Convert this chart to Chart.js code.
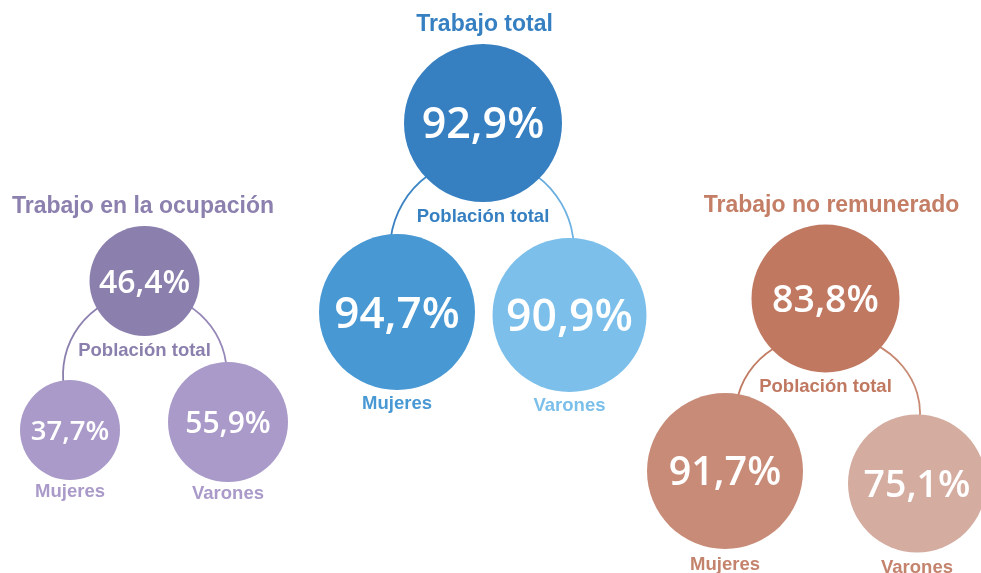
<!DOCTYPE html>
<html lang="es">
<head>
<meta charset="utf-8">
<title>Trabajo total, en la ocupación y no remunerado</title>
<script src="https://cdn.jsdelivr.net/npm/chart.js@4.4.1/dist/chart.umd.min.js"></script>
<style>
  html, body { margin: 0; padding: 0; background: #ffffff; }
  #wrap { position: relative; width: 981px; height: 573px; }
</style>
</head>
<body>
<div id="wrap"><canvas id="chart"></canvas></div>
<script>
// ---- Data ----
const groups = ['Trabajo en la ocupación', 'Trabajo total', 'Trabajo no remunerado'];
const segments = ['Población total', 'Mujeres', 'Varones'];
const ocupacion = [46.4, 37.7, 55.9];
const trabajoTotal = [92.9, 94.7, 90.9];
const noRemunerado = [83.8, 91.7, 75.1];
const seriesValues = [ocupacion, trabajoTotal, noRemunerado];

// ---- Layout (canvas pixels; x/y scales map 1:1 onto the canvas) ----
// bubble centres and radii per group: [Población total, Mujeres, Varones]
const bubbleX = [[144.5, 70, 228], [483, 397, 569.5], [825.5, 725, 917]];
const bubbleY = [[281, 430, 422], [123, 312, 315], [298.5, 471, 483.5]];
const bubbleR = [[55, 50, 60], [79, 78, 77], [74, 78, 69]];
const valueFont = [[32, 27.5, 30], [43, 44, 44.5], [37.5, 39.5, 37.5]];
const titleX = [143, 484.5, 831.5];
const captionGap = [10, 12, 14];
// connector arch per group: centre x, centre y, radius x, radius y
const arches = [
  { cx: 145, cy: 375, rx: 82, ry: 82 },
  { cx: 482, cy: 250, rx: 92, ry: 92 },
  { cx: 828, cy: 413, rx: 92, ry: 80 }
];

// ---- Styles ----
const palette = [
  { title: '#8c80ae', total: '#8b7fad', mujeres: '#a99ac9', varones: '#a99ac9',
    lblTotal: '#8b7fad', lblM: '#a99ac9', lblV: '#a99ac9', arcL: '#8b7fad', arcR: '#9688b8' },
  { title: '#3680c2', total: '#367fc1', mujeres: '#4898d4', varones: '#7bbfea',
    lblTotal: '#3680c2', lblM: '#4898d4', lblV: '#7bbfea', arcL: '#367fc1', arcR: '#6fb3e4' },
  { title: '#c47e66', total: '#c07860', mujeres: '#c88b77', varones: '#d4aca0',
    lblTotal: '#c07860', lblM: '#c4836d', lblV: '#c4836d', arcL: '#c07860', arcR: '#c88a74' }
];
const labelFont = 'bold 18.5px "Liberation Sans", Arial, sans-serif';
const titleFont = 'bold 23px "Liberation Sans", Arial, sans-serif';

const fmt = v => v.toFixed(1).replace('.', ',') + '%';

// one bubble dataset per group
const datasets = seriesValues.map((vals, g) => ({
  label: groups[g],
  data: vals.map((v, i) => ({ x: bubbleX[g][i], y: bubbleY[g][i], r: bubbleR[g][i], v })),
  backgroundColor: [palette[g].total, palette[g].mujeres, palette[g].varones],
  borderWidth: 0,
  hoverBorderWidth: 0,
  clip: false
}));

// arches drawn behind the bubbles
const archPlugin = {
  id: 'arches',
  beforeDatasetsDraw(chart) {
    const { ctx, scales: { x, y } } = chart;
    arches.forEach((a, g) => {
      const cx = x.getPixelForValue(a.cx), cy = y.getPixelForValue(a.cy);
      const grad = ctx.createLinearGradient(cx - a.rx, 0, cx + a.rx, 0);
      grad.addColorStop(0, palette[g].arcL);
      grad.addColorStop(1, palette[g].arcR);
      ctx.save();
      ctx.strokeStyle = grad;
      ctx.lineWidth = 1.8;
      ctx.beginPath();
      ctx.ellipse(cx, cy, a.rx, a.ry, 0, Math.PI * 0.92, Math.PI * 2.08);
      ctx.stroke();
      ctx.restore();
    });
  }
};

// values inside bubbles, captions and titles
const textPlugin = {
  id: 'texts',
  afterDatasetsDraw(chart) {
    const { ctx, scales: { x } } = chart;
    ctx.save();
    ctx.textAlign = 'center';
    ctx.textBaseline = 'alphabetic';
    chart.data.datasets.forEach((ds, g) => {
      const meta = chart.getDatasetMeta(g);
      const pts = meta.data;
      const col = palette[g];
      pts.forEach((el, i) => {
        const size = valueFont[g][i];
        ctx.font = `600 ${size}px "Open Sans", "Liberation Sans", sans-serif`;
        ctx.fillStyle = '#ffffff';
        ctx.fillText(fmt(ds.data[i].v), el.x, el.y + size * 0.36);
      });
      ctx.font = labelFont;
      const r0 = ds.data[0].r;
      const gap = captionGap[g];
      ctx.fillStyle = col.lblTotal;
      ctx.fillText(segments[0], pts[0].x, pts[0].y + r0 + 13 + 6.6);
      ctx.fillStyle = col.lblM;
      ctx.fillText(segments[1], pts[1].x, pts[1].y + ds.data[1].r + gap + 6.6);
      ctx.fillStyle = col.lblV;
      ctx.fillText(segments[2], pts[2].x, pts[2].y + ds.data[2].r + gap + 6.6);
      ctx.font = titleFont;
      ctx.fillStyle = col.title;
      ctx.fillText(groups[g], x.getPixelForValue(titleX[g]), pts[0].y - r0 - 21 + 8.2);
    });
    ctx.restore();
  }
};

new Chart(document.getElementById('chart'), {
  type: 'bubble',
  data: { datasets },
  options: {
    responsive: true,
    maintainAspectRatio: false,
    animation: false,
    events: [],
    layout: { padding: 0, autoPadding: false },
    plugins: { legend: { display: false }, tooltip: { enabled: false } },
    scales: {
      x: { type: 'linear', min: 0, max: 981, display: false },
      y: { type: 'linear', min: 0, max: 573, reverse: true, display: false }
    }
  },
  plugins: [archPlugin, textPlugin]
});
</script>
</body>
</html>
